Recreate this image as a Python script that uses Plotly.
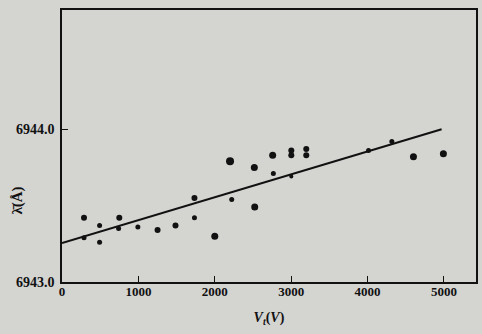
import plotly.graph_objects as go

# Measured points: accelerating voltage V_t (V) vs mean wavelength (Å)
volt = [288, 288, 492, 492, 750, 741, 993, 1251, 1486, 1734, 1734, 2000,
        2200, 2222, 2518, 2523, 2758, 2767, 3002, 3002, 3002, 3198, 3198,
        4013, 4318, 4601, 4993]
wave = [6943.42, 6943.29, 6943.37, 6943.26, 6943.42, 6943.35, 6943.36, 6943.34,
        6943.37, 6943.55, 6943.42, 6943.30, 6943.79, 6943.54, 6943.75, 6943.49,
        6943.83, 6943.71, 6943.86, 6943.83, 6943.69, 6943.87, 6943.83,
        6943.86, 6943.92, 6943.82, 6943.84]
msize = [6, 5, 5, 5, 6, 5, 5, 6, 6, 6, 5, 7,
         8, 5, 7, 7, 7, 5, 6, 6, 4, 6, 6,
         5, 5, 7, 7]

# Fitted line
fit_v = [0, 4970]
fit_w = [6943.255, 6944.0]

y_ticks = [6943.0, 6944.0]
y_labels = ["6943.0", "6944.0"]
x_ticks = [0, 1000, 2000, 3000, 4000, 5000]
x_labels = ["0", "1000", "2000", "3000", "4000", "5000"]

bg = "#d4d4d1"
ink = "#111111"
font = "Liberation Serif"

fig = go.Figure()
fig.add_trace(go.Scatter(x=fit_v, y=fit_w, mode="lines",
                         line=dict(color=ink, width=2), showlegend=False))
fig.add_trace(go.Scatter(x=volt, y=wave, mode="markers",
                         marker=dict(color=ink, size=msize, opacity=1,
                                     line=dict(width=0)),
                         showlegend=False))

fig.update_layout(
    width=482, height=334,
    margin=dict(l=62, r=4, t=10, b=52),
    paper_bgcolor=bg, plot_bgcolor=bg,
    font=dict(family=font, color=ink, size=12),
    xaxis=dict(range=[0, 5420], tickvals=x_ticks, ticktext=x_labels,
               ticks="inside", ticklen=6, tickwidth=1.3, tickcolor=ink,
               showline=True, linecolor=ink, linewidth=1.6, mirror=True,
               showgrid=False, zeroline=False, ticklabelstandoff=-3,
               tickfont=dict(family=font, size=13, color=ink, weight="bold"),
               title=dict(text="<i>V<sub>t</sub></i>(<i>V</i>)", standoff=14,
                          font=dict(family=font, size=14, color=ink, weight="bold"))),
    yaxis=dict(range=[6943.0, 6944.78], tickvals=y_ticks, ticktext=y_labels,
               ticks="inside", ticklen=6, tickwidth=1.3, tickcolor=ink,
               showline=True, linecolor=ink, linewidth=1.6, mirror=True,
               showgrid=False, zeroline=False, ticklabelstandoff=3,
               tickfont=dict(family=font, size=14, color=ink, weight="bold")),
    annotations=[dict(text="λ̄(Å)", textangle=-90, xref="paper", yref="y",
                      x=-0.135, y=6943.53, showarrow=False,
                      font=dict(family=font, size=15, color=ink, weight="bold"))],
)

fig.write_html("out.html")
